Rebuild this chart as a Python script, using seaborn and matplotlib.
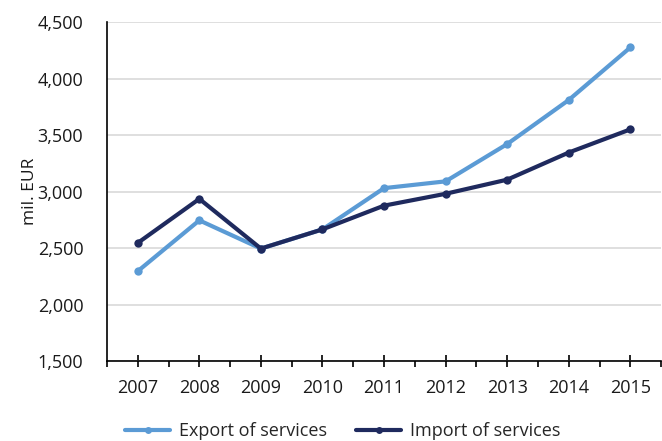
import matplotlib
matplotlib.use("Agg")
import matplotlib.pyplot as plt
import seaborn as sns
import pandas as pd
import numpy as np
from matplotlib.ticker import FuncFormatter, FixedLocator

years = ["2007", "2008", "2009", "2010", "2011", "2012", "2013", "2014", "2015"]
export_services = [2295, 2745, 2495, 2665, 3030, 3090, 3420, 3810, 4275]
import_services = [2545, 2935, 2495, 2665, 2875, 2980, 3105, 3345, 3550]
series_names = ["Export of services", "Import of services"]
palette = {"Export of services": "#5b9bd5", "Import of services": "#1f2a5e"}

df = pd.DataFrame({
    "pos": list(range(len(years))) * 2,
    "value": export_services + import_services,
    "series": [series_names[0]] * len(years) + [series_names[1]] * len(years),
})

sns.set_theme(style="white")
plt.rcParams["font.family"] = ["Open Sans", "DejaVu Sans"]

fig = plt.figure(figsize=(6.62, 4.41), dpi=100)
ax = fig.add_axes([0.1616, 0.1814, 0.837, 0.7686])

sns.lineplot(data=df, x="pos", y="value", hue="series", palette=palette,
             hue_order=series_names, marker="o", markersize=6, markeredgewidth=0,
             linewidth=3, ax=ax, legend=False)

ax.set_xlim(-0.5, len(years) - 0.5)
ax.set_ylim(1500, 4500)
ax.set_yticks(np.arange(1500, 4501, 500))
ax.yaxis.set_major_formatter(FuncFormatter(lambda v, p: f"{int(v):,}"))
ax.set_xticks(range(len(years)))
ax.set_xticklabels(years)
ax.xaxis.set_minor_locator(FixedLocator(np.arange(-0.5, len(years), 1.0)))

ax.grid(axis="y", color="#d9d9d9", linewidth=1.2)
ax.set_axisbelow(True)
for s in ["top", "right"]:
    ax.spines[s].set_visible(False)
for s in ["left", "bottom"]:
    ax.spines[s].set_color("black")
    ax.spines[s].set_linewidth(1.2)

ax.tick_params(axis="x", which="major", direction="inout", length=8, width=1.2,
               color="black", labelsize=13, pad=9, bottom=True)
ax.tick_params(axis="x", which="minor", direction="out", length=4, width=1.2,
               color="black", bottom=True)
ax.tick_params(axis="y", length=0, labelsize=13, pad=17)
for lbl in ax.get_xticklabels() + ax.get_yticklabels():
    lbl.set_color("#1a1a1a")

ax.set_xlabel("")
ax.set_ylabel("mil. EUR", fontsize=12.5, color="#1a1a1a", labelpad=0)

handles = [plt.Line2D([], [], color=palette[n], linewidth=3, marker="o",
                      markersize=5, markeredgewidth=0) for n in series_names]
fig.legend(handles, series_names, loc="center", bbox_to_anchor=(0.518, 0.022),
           ncol=2, frameon=False, fontsize=13, handlelength=2.5,
           columnspacing=1.6, handletextpad=0.5)

fig.savefig("out.png", dpi=100)
